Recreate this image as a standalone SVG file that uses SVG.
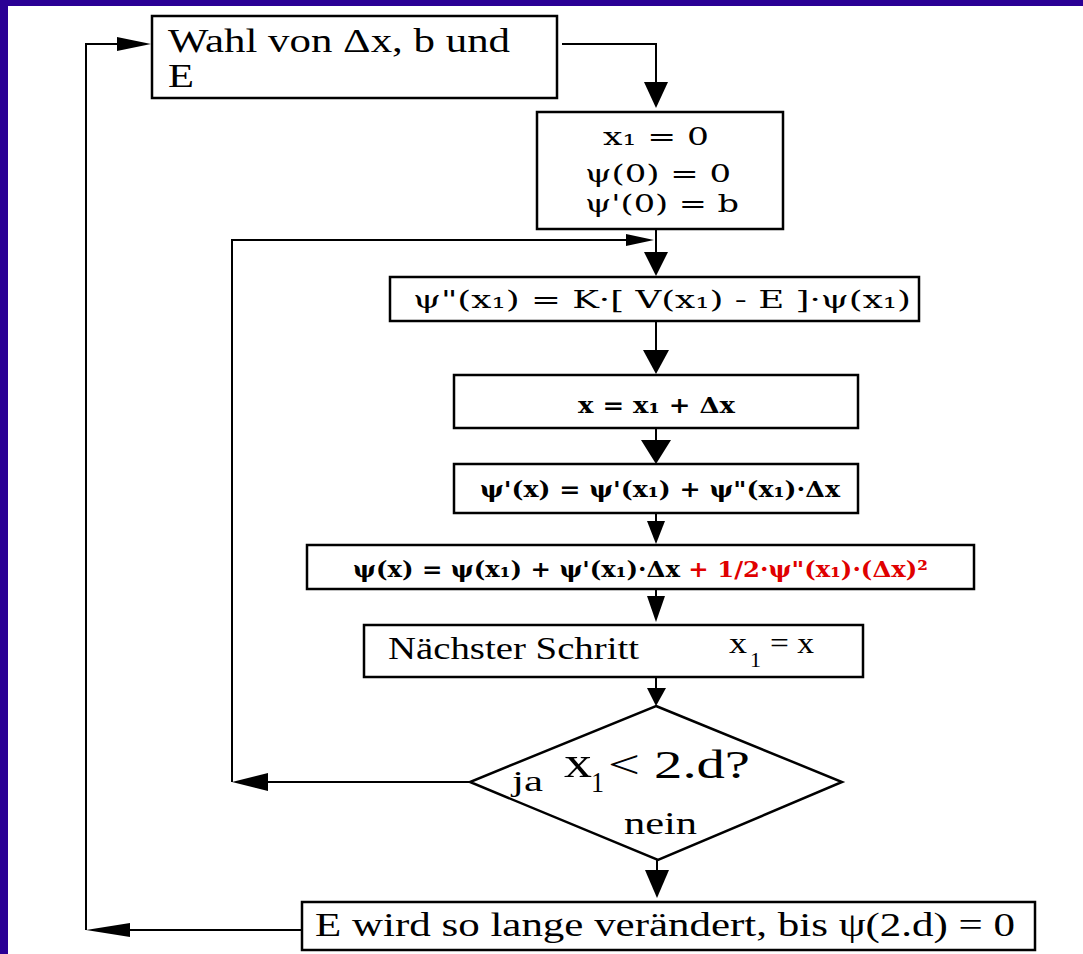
<svg xmlns="http://www.w3.org/2000/svg" width="1083" height="954" viewBox="0 0 1083 954">
<style>
.box{fill:#fff;stroke:#000;stroke-width:2.5}
.ln{fill:none;stroke:#000;stroke-width:2}
.hd{fill:#000;stroke:none}
.tm{font-family:"Liberation Serif","Times New Roman",serif;fill:#000}
.fm{font-family:"DejaVu Serif","Liberation Serif",serif;fill:#000}
.b{font-weight:bold}
.red{fill:#e00000}
</style>
<rect x="0" y="0" width="1083" height="954" fill="#fff"/>
<rect x="0" y="0" width="1083" height="6" fill="#2a0095"/>
<rect x="0" y="0" width="8" height="954" fill="#2a0095"/>

<g id="connectors">
  <polyline class="ln" points="562,44 656,44 656,86"/>
  <polygon class="hd" points="644,82 668,82 656,108"/>
  <polyline class="ln" points="656,229 656,254"/>
  <polygon class="hd" points="644,252 668,252 656,276"/>
  <polyline class="ln" points="232,782 232,240 630,240"/>
  <polygon class="hd" points="626,234 626,246 654,240"/>
  <polyline class="ln" points="656,321 656,352"/>
  <polygon class="hd" points="643,350 669,350 656,374"/>
  <polyline class="ln" points="656,428 656,442"/>
  <polygon class="hd" points="641,440 671,440 656,464"/>
  <polyline class="ln" points="656,513 656,523"/>
  <polygon class="hd" points="647,521 665,521 656,544"/>
  <polyline class="ln" points="656,589 656,598"/>
  <polygon class="hd" points="647,596 665,596 656,622"/>
  <polyline class="ln" points="656,677 656,690"/>
  <polygon class="hd" points="647,688 666,688 656,706"/>
  <polyline class="ln" points="470,782 266,782"/>
  <polygon class="hd" points="268,773 268,791 232,782"/>
  <polyline class="ln" points="657,860 657,872"/>
  <polygon class="hd" points="645,870 669,870 657,898"/>
  <polyline class="ln" points="302,930 128,930"/>
  <polygon class="hd" points="130,923 130,937 86,930"/>
  <polyline class="ln" points="86,930 86,44 120,44"/>
  <polygon class="hd" points="117,37 117,51 151,44"/>
</g>

<g id="n_wahl">
  <rect class="box" x="152" y="16" width="405" height="82"/>
  <text class="tm" x="168" y="52" font-size="33" textLength="342" lengthAdjust="spacingAndGlyphs">Wahl von Δx, b und</text>
  <text class="tm" x="168" y="87" font-size="33" textLength="26" lengthAdjust="spacingAndGlyphs">E</text>
</g>

<g id="n_init">
  <rect class="box" x="537" y="112" width="246" height="117"/>
  <text class="fm" x="603" y="145" font-size="25" textLength="106" lengthAdjust="spacingAndGlyphs">x₁ = 0</text>
  <text class="fm" x="585" y="182" font-size="25" textLength="146" lengthAdjust="spacingAndGlyphs">ψ(0) = 0</text>
  <text class="fm" x="585" y="212" font-size="25" textLength="154" lengthAdjust="spacingAndGlyphs">ψ'(0) = b</text>
</g>

<g id="n_psi2">
  <rect class="box" x="390" y="277" width="529" height="44"/>
  <text class="fm" x="413" y="308" font-size="25" textLength="498" lengthAdjust="spacingAndGlyphs">ψ"(x₁) = K·[ V(x₁) - E ]·ψ(x₁)</text>
</g>

<g id="n_x">
  <rect class="box" x="454" y="375" width="404" height="53"/>
  <text class="fm b" x="578" y="413" font-size="22" textLength="157" lengthAdjust="spacingAndGlyphs">x = x₁ + Δx</text>
</g>

<g id="n_psi1">
  <rect class="box" x="454" y="464" width="404" height="49"/>
  <text class="fm b" x="480" y="497" font-size="22" textLength="360" lengthAdjust="spacingAndGlyphs">ψ'(x) = ψ'(x₁)  +  ψ"(x₁)·Δx</text>
</g>

<g id="n_psi0">
  <rect class="box" x="307" y="545" width="667" height="44"/>
  <text class="fm b" x="353" y="577" font-size="22" textLength="575" lengthAdjust="spacingAndGlyphs">ψ(x) = ψ(x₁) + ψ'(x₁)·Δx <tspan class="red">+ 1/2·ψ"(x₁)·(Δx)²</tspan></text>
</g>

<g id="n_next">
  <rect class="box" x="364" y="625" width="499" height="52"/>
  <text class="tm" x="388" y="659" font-size="31" textLength="251" lengthAdjust="spacingAndGlyphs">Nächster Schritt</text>
  <text class="tm" x="729" y="653" font-size="30" textLength="18" lengthAdjust="spacingAndGlyphs">x</text>
  <text class="tm" x="750" y="667" font-size="22">1</text>
  <text class="tm" x="770" y="653" font-size="30" textLength="44" lengthAdjust="spacingAndGlyphs">= x</text>
</g>

<g id="n_dec">
  <polygon class="box" points="656,706 842,782 658,860 470,782"/>
  <text class="tm" x="512" y="791" font-size="29" textLength="31" lengthAdjust="spacingAndGlyphs">ja</text>
  <text class="tm" x="564" y="777" font-size="44" textLength="28" lengthAdjust="spacingAndGlyphs">x</text>
  <text class="tm" x="591" y="792" font-size="30" textLength="13" lengthAdjust="spacingAndGlyphs">1</text>
  <text class="tm" x="608" y="778" font-size="40" textLength="142" lengthAdjust="spacingAndGlyphs">&lt; 2.d?</text>
  <text class="tm" x="624" y="834" font-size="31" textLength="73" lengthAdjust="spacingAndGlyphs">nein</text>
</g>

<g id="n_end">
  <rect class="box" x="302" y="902" width="733" height="48"/>
  <text class="tm" x="315" y="936" font-size="33" textLength="700" lengthAdjust="spacingAndGlyphs">E wird so lange verändert, bis ψ(2.d) = 0</text>
</g>
</svg>
